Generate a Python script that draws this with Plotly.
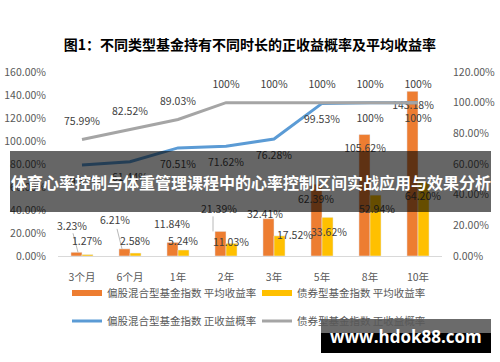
import plotly.graph_objects as go

# ---------------- data ----------------
categories = ["3个月", "6个月", "1年", "2年", "3年", "5年", "8年", "10年"]
equity_avg = [3.23, 6.21, 11.84, 21.39, 32.41, 62.39, 105.62, 143.18]
bond_avg = [1.27, 2.58, 5.24, 11.03, 17.52, 33.62, 52.94, 64.20]
equity_prob = [59.35, 61.44, 70.51, 71.62, 76.28, 99.53, 100, 100]
bond_prob = [75.99, 82.52, 89.03, 100, 100, 100, 100, 100]
left_ticks = [0, 20, 40, 60, 80, 100, 120, 140, 160]
right_ticks = [0, 20, 40, 60, 80, 100, 120]

name_eq_avg = "偏股混合型基金指数 平均收益率"
name_bd_avg = "债券型基金指数 平均收益率"
name_eq_prob = "偏股混合型基金指数 正收益概率"
name_bd_prob = "债券型基金指数 正收益概率"
title = "图1：不同类型基金持有不同时长的正收益概率及平均收益率"
banner = "体育心率控制与体重管理课程中的心率控制区间实战应用与效果分析"
watermark = "www.hdok88.com"

# ---------------- geometry / style ----------------
W, H = 500, 362
ML, MR, MT, MB = 58, 58, 72, 106
PW, PH = W - ML - MR, H - MT - MB
XR = [-0.5, len(categories) - 0.5]
YL = [0, 160]
YR = [0, 120]
pxx = PW / (XR[1] - XR[0])      # px per category
pyl = PH / (YL[1] - YL[0])      # px per % (left)
pyr = PH / (YR[1] - YR[0])      # px per % (right)

ORANGE = "#ED7D31"
YELLOW = "#FFC000"
BLUE = "#5B9BD5"
GREY = "#A5A5A5"
FONT = "Noto Sans CJK SC"
TXT = "#595959"
LBL = "#404040"
FS = 10.5

idx = list(range(len(categories)))

# label pixel offsets (dx right, dy down) relative to the bar top / point
eq_lbl_off = [(-10, -25), (-15, -27), (-6, -17), (-7, -21), (-9, -3), (-6, 16), (-5, 14.5), (-5, 15)]
bd_lbl_off = [(5, -12.5), (5, -11), (5, -8), (5, 0), (21, 1), (7, 16), (7, 15), (5, 15)]
prob_up = 17
prob_down = 17


def px_x(p):
    return (p - ML) / PW


def px_y(p):
    return (MT + PH - p) / PH


def pct(v):
    return f"{v:.2f}%"


def pct_lbl(v):
    return "100%" if v == 100 else f"{v:.2f}%"


fig = go.Figure()

# bars
fig.add_trace(go.Bar(x=idx, y=equity_avg, marker_color=ORANGE, name=name_eq_avg,
                     showlegend=False, yaxis="y"))
fig.add_trace(go.Bar(x=idx, y=bond_avg, marker_color=YELLOW, name=name_bd_avg,
                     showlegend=False, yaxis="y"))

# legend proxies for bars
fig.add_trace(go.Scatter(x=[None], y=[None], mode="lines", line=dict(color=ORANGE, width=6),
                         name=name_eq_avg, legend="legend"))
fig.add_trace(go.Scatter(x=[None], y=[None], mode="lines", line=dict(color=YELLOW, width=6),
                         name=name_bd_avg, legend="legend"))

# lines
fig.add_trace(go.Scatter(x=idx, y=equity_prob, mode="lines", line=dict(color=BLUE, width=3),
                         name=name_eq_prob, yaxis="y2", legend="legend2"))
fig.add_trace(go.Scatter(x=idx, y=bond_prob, mode="lines", line=dict(color=GREY, width=3),
                         name=name_bd_prob, yaxis="y2", legend="legend2"))

# leader lines for some bar labels
lead_x, lead_y = [], []
for i, (sx, ex, ey) in {0: (-4, -9, -19), 1: (-8, -13, -20), 3: (-13, -13, -15)}.items():
    v = equity_avg[i]
    lead_x += [i + sx / pxx, i + ex / pxx, None]
    lead_y += [v, v - ey / pyl, None]
fig.add_trace(go.Scatter(x=lead_x, y=lead_y, mode="lines", line=dict(color="#A6A6A6", width=0.8),
                         showlegend=False, hoverinfo="skip", yaxis="y"))

# data labels
fig.add_trace(go.Scatter(
    x=[i + d[0] / pxx for i, d in zip(idx, eq_lbl_off)],
    y=[v - d[1] / pyl for v, d in zip(equity_avg, eq_lbl_off)],
    text=[pct(v) for v in equity_avg], mode="text", textposition="middle center",
    textfont=dict(size=FS, color=LBL, family=FONT), showlegend=False, cliponaxis=False,
    hoverinfo="skip", yaxis="y"))
fig.add_trace(go.Scatter(
    x=[i + d[0] / pxx for i, d in zip(idx, bd_lbl_off)],
    y=[v - d[1] / pyl for v, d in zip(bond_avg, bd_lbl_off)],
    text=[pct(v) for v in bond_avg], mode="text", textposition="middle center",
    textfont=dict(size=FS, color=LBL, family=FONT), showlegend=False, cliponaxis=False,
    hoverinfo="skip", yaxis="y"))
fig.add_trace(go.Scatter(
    x=idx, y=[v - prob_down / pyr for v in equity_prob],
    text=[pct_lbl(v) for v in equity_prob], mode="text", textposition="middle center",
    textfont=dict(size=FS, color=LBL, family=FONT), showlegend=False, cliponaxis=False,
    hoverinfo="skip", yaxis="y2"))
fig.add_trace(go.Scatter(
    x=idx, y=[v + prob_up / pyr for v in bond_prob],
    text=[pct_lbl(v) for v in bond_prob], mode="text", textposition="middle center",
    textfont=dict(size=FS, color=LBL, family=FONT), showlegend=False, cliponaxis=False,
    hoverinfo="skip", yaxis="y2"))

legend_common = dict(orientation="h", xref="container", yref="container",
                     xanchor="left", yanchor="middle", entrywidth=145,
                     entrywidthmode="pixels", itemwidth=30,
                     font=dict(size=FS, color=TXT, family=FONT),
                     bgcolor="rgba(0,0,0,0)", traceorder="normal")

fig.update_layout(
    width=W, height=H,
    margin=dict(l=ML, r=MR, t=MT, b=MB, pad=0, autoexpand=False),
    paper_bgcolor="white", plot_bgcolor="white",
    font=dict(family=FONT, size=FS, color=TXT),
    title=dict(text=f"<b>{title}</b>", x=0.5, xanchor="center", xref="container",
               y=1 - 45 / H, yanchor="middle", yref="container",
               font=dict(size=14, color="#000000", family=FONT)),
    barmode="group", bargap=0.54, bargroupgap=0,
    xaxis=dict(range=XR, tickvals=idx, ticktext=categories, showline=True, automargin=False,
               linecolor="#D9D9D9", linewidth=1, showgrid=False, zeroline=False,
               ticks="", ticklabelstandoff=11, tickfont=dict(size=FS, color=TXT)),
    yaxis=dict(range=YL, tickvals=left_ticks, ticktext=[pct(t) for t in left_ticks],
               showgrid=False, zeroline=False, showline=False, ticks="", automargin=False,
               ticklabelstandoff=11, tickfont=dict(size=FS, color=TXT)),
    yaxis2=dict(range=YR, tickvals=right_ticks, ticktext=[pct(t) for t in right_ticks],
                overlaying="y", side="right", showgrid=False, zeroline=False, automargin=False,
                showline=False, ticks="", ticklabelstandoff=10,
                tickfont=dict(size=FS, color=TXT)),
    legend=dict(legend_common, x=67 / W, y=1 - 293 / H),
    legend2=dict(legend_common, x=67 / W, y=1 - 321 / H),
    shapes=[
        dict(type="rect", xref="paper", yref="paper", x0=px_x(10), x1=px_x(491),
             y0=px_y(212), y1=px_y(151), fillcolor="rgba(0,0,0,0.6)",
             line=dict(width=0), layer="above"),
        dict(type="rect", xref="paper", yref="paper", x0=px_x(321), x1=px_x(491),
             y0=px_y(353), y1=px_y(319), fillcolor="#000000",
             line=dict(width=0), layer="above"),
        dict(type="rect", xref="paper", yref="paper", x0=px_x(321), x1=px_x(491),
             y0=px_y(333), y1=px_y(319), fillcolor="#6b6b6b",
             line=dict(width=0), layer="above"),
    ],
    annotations=[
        dict(text=f"<b>{banner}</b>", xref="paper", yref="paper", x=px_x(251), y=px_y(181.5),
             xanchor="center", yanchor="middle", showarrow=False,
             font=dict(size=16, color="white", family=FONT)),
        dict(text=f"<b>{watermark}</b>", xref="paper", yref="paper", x=px_x(406), y=px_y(336.5),
             xanchor="center", yanchor="middle", showarrow=False,
             font=dict(size=17, color="white", family="Open Sans")),
    ],
)

fig.write_html("out.html", config={"displayModeBar": False},
               post_script="document.body.style.margin='0px';document.body.style.overflow='hidden';")
